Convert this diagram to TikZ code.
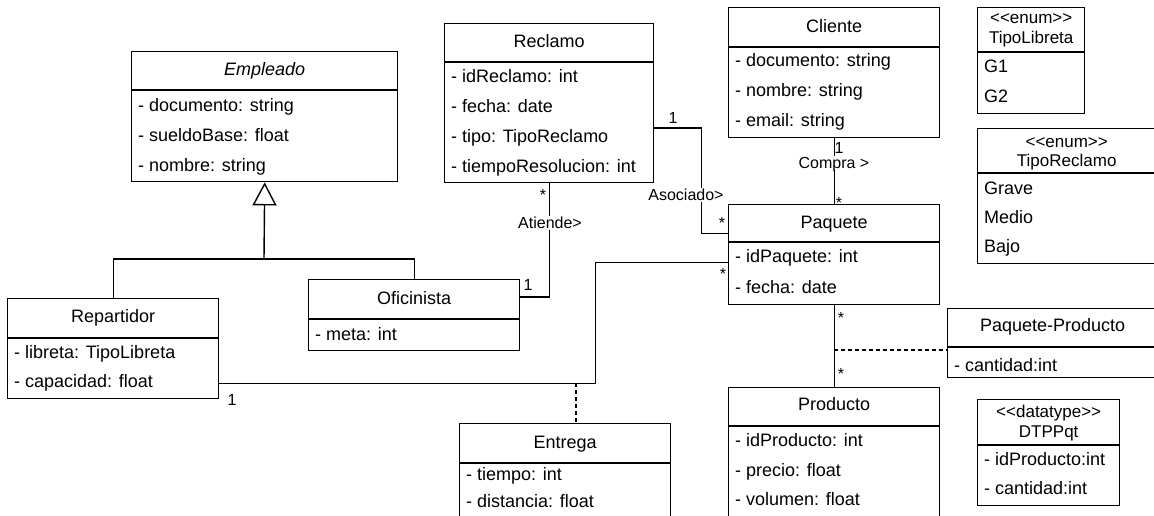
\documentclass[tikz,border=0pt]{standalone}
\usepackage{fontspec}
\newfontfamily\arial{Liberation Sans}
\usetikzlibrary{arrows.meta}
\tikzset{
    caja/.style={draw, line width=1.4pt, anchor=north west, inner sep=0pt}, % 类的外框
    titulo/.style={inner sep=0pt, text height=13pt, text depth=4pt}, % 类名
    atrib/.style={anchor=west, inner sep=0pt, text height=13pt, text depth=4pt}, % 属性行
    estereo/.style={align=center, inner sep=0pt, font=\arial\fontsize{17}{20}\selectfont}, % <<enum>> 等
    etiq/.style={font=\arial\fontsize{16}{18}\selectfont, inner sep=1pt, text height=11.5pt, text depth=0pt}, % 关联上的标签
    linea/.style={line width=1.4pt},
    herencia/.style={-{Triangle[open, length=23pt, width=24pt]}} % 继承箭头
}
\newcommand{\clase}[6]{% nombre, x, y, ancho, alto, cabecera
    \node[caja, minimum width=#4pt, minimum height=#5pt] (#1) at (#2,#3) {};
    \draw[linea] ([yshift=-#6pt]#1.north west) -- ([yshift=-#6pt]#1.north east);
}

\begin{document}
\begin{tikzpicture}[x=1pt, y=-1pt, font=\arial\fontsize{18}{22}\selectfont]
    \useasboundingbox (0,0) rectangle (1154,516);
    \clip (0,0) rectangle (1154,516);
    \fill[white] (0,0) rectangle (1154,516);

    \clase{empleado}{131}{51}{266}{130}{39}
    \node[titulo] at ([yshift=-20pt]empleado.north) {\textit{Empleado}};
    \foreach \txt [count=\i from 0] in {documento: string, sueldoBase: float, nombre: string}
        \node[atrib] at (138,107+30*\i) {- \txt};

    \clase{reclamo}{444}{23}{209}{159}{39}
    \node[titulo] at ([yshift=-20pt]reclamo.north) {Reclamo};
    \foreach \txt [count=\i from 0] in {idReclamo: int, fecha: date, tipo: TipoReclamo, tiempoResolucion: int}
        \node[atrib] at (451,78+30*\i) {- \txt};

    \clase{cliente}{728}{7}{211}{130}{40}
    \node[titulo] at ([yshift=-21pt]cliente.north) {Cliente};
    \foreach \txt [count=\i from 0] in {documento: string, nombre: string, email: string}
        \node[atrib] at (735,62+30*\i) {- \txt};

    \clase{paquete}{728}{204}{211}{100}{38}
    \node[titulo] at ([yshift=-20pt]paquete.north) {Paquete};
    \foreach \txt [count=\i from 0] in {idPaquete: int, fecha: date}
        \node[atrib] at (735,258+30.5*\i) {- \txt};

    \clase{producto}{728}{387}{211}{145}{39}
    \node[titulo] at ([yshift=-19pt]producto.north) {Producto};
    \foreach \txt [count=\i from 0] in {idProducto: int, precio: float, volumen: float}
        \node[atrib] at (735,442+29.5*\i) {- \txt};

    \clase{entrega}{459}{423}{211}{110}{40}
    \node[titulo] at ([yshift=-21pt]entrega.north) {Entrega};
    \foreach \txt [count=\i from 0] in {tiempo: int, distancia: float}
        \node[atrib] at (466,476+27*\i) {- \txt};

    \clase{repartidor}{7}{298}{211}{100}{40}
    \node[titulo] at ([yshift=-20pt]repartidor.north) {Repartidor};
    \foreach \txt [count=\i from 0] in {libreta: TipoLibreta, capacidad: float}
        \node[atrib] at (14,354+29*\i) {- \txt};

    \clase{oficinista}{308}{279}{211}{71}{40}
    \node[titulo] at ([yshift=-21pt]oficinista.north) {Oficinista};
    \node[atrib] at (315,336) {- meta: int};

    \clase{paqProd}{947}{308}{210}{69}{39}
    \node[titulo] at ([yshift=-19pt]paqProd.north) {Paquete-Producto};
    \node[atrib] at (954,367) {- cantidad:int};

    \clase{tipoLibreta}{977}{7}{107}{106}{45}
    \node[estereo] at ([yshift=-23pt]tipoLibreta.north) {<<enum>>\\TipoLibreta};
    \foreach \txt [count=\i from 0] in {G1, G2}
        \node[atrib] at (984,68+30*\i) {\txt};

    \clase{tipoReclamo}{977}{128}{178}{135}{45}
    \node[estereo, font=\arial\fontsize{17}{19}\selectfont] at ([yshift=-26pt]tipoReclamo.north) {<<enum>>\\TipoReclamo};
    \foreach \txt [count=\i from 0] in {Grave, Medio, Bajo}
        \node[atrib] at (984,190+29*\i) {\txt};

    \clase{dtppqt}{977}{399}{142}{106}{46}
    \node[estereo] at ([yshift=-24pt]dtppqt.north) {<<datatype>>\\DTPPqt};
    \foreach \txt [count=\i from 0] in {idProducto:int, cantidad:int}
        \node[atrib] at (984,461+29*\i) {- \txt};

    % herencia
    \coordinate (gen) at (264,259);
    \draw[linea] (repartidor.north) |- (gen) -| (oficinista.north);
    \draw[linea, herencia] (gen) -- (empleado.south);

    % asociaciones
    \draw[linea] (reclamo.south) |- ([yshift=-18pt]oficinista.north east);
    \draw[linea] ([yshift=-25pt]reclamo.east) -- ++(47,0) |- ([yshift=21pt]paquete.west);
    \draw[linea] (cliente.south) -- (paquete.north);
    \draw[linea] ([yshift=-35pt]repartidor.east) -- ++(376,0) |- ([yshift=-8pt]paquete.west);
    \draw[linea] (paquete.south) -- (producto.north);

    \coordinate (entregaJ) at (576,383);
    \draw[linea, dash pattern=on 4pt off 3pt] (entregaJ) -- (entregaJ |- entrega.north);
    \coordinate (paqProdJ) at (833.5,350);
    \draw[linea, dash pattern=on 4pt off 3pt] (paqProdJ) -- (paqProdJ -| paqProd.west);

    \node[etiq] at (543,195) {*};
    \node[etiq, fill=white] at (550,223) {Atiende>};
    \node[etiq] at (528,285) {1};
    \node[etiq] at (673,118) {1};
    \node[etiq, fill=white] at (686,195) {Asociado>};
    \node[etiq] at (722,223) {*};
    \node[etiq] at (839,148) {1};
    \node[etiq, fill=white] at (834,163) {Compra >};
    \node[etiq] at (839,203) {*};
    \node[etiq] at (232,400) {1};
    \node[etiq] at (723,274) {*};
    \node[etiq] at (841,318) {*};
    \node[etiq] at (841,374) {*};
\end{tikzpicture}
\end{document}
